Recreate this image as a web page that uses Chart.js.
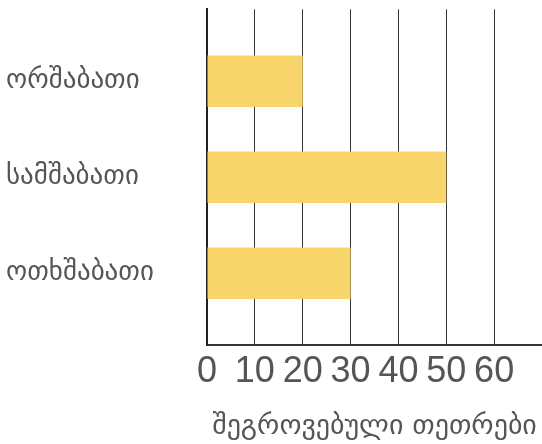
<!DOCTYPE html>
<html>
<head>
<meta charset="utf-8">
<script src="https://cdn.jsdelivr.net/npm/chart.js@4"></script>
<style>
  html, body { margin: 0; padding: 0; background: #fff; }
  #wrap { width: 542px; height: 444px; }
</style>
</head>
<body>
<div id="wrap"><canvas id="grafik"></canvas></div>
<script>
// დღეები და შეგროვებული თეთრები
const dghe = ["ორშაბათი", "სამშაბათი", "ოთხშაბათი"];
const tetri = [20, 50, 30];
const xTicks = [0, 10, 20, 30, 40, 50, 60];
const xTitle = "შეგროვებული თეთრები";

const ctx = document.getElementById("grafik").getContext("2d");

new Chart(ctx, {
    type: "bar",
    data: {
        datasets: [{
            data: tetri.map((v, i) => ({ x: v, y: i })),
            backgroundColor: "#f8d56b",
            borderWidth: 0,
            barPercentage: 0.67,
            categoryPercentage: 0.8
        }]
    },
    options: {
        indexAxis: "y",
        responsive: true,
        maintainAspectRatio: false,
        animation: false,
        layout: { padding: { top: 0, right: 0, left: 6, bottom: 0 } },
        plugins: {
            legend: { display: false },
            tooltip: { enabled: false }
        },
        scales: {
            x: {
                type: "linear",
                min: 0,
                max: 70,
                afterBuildTicks: s => { s.ticks = xTicks.map(v => ({ value: v })); },
                grid: { color: "#333", lineWidth: 1, drawTicks: false },
                border: { color: "#333", width: 2 },
                ticks: {
                    color: "#555",
                    padding: 5,
                    autoSkip: false,
                    maxRotation: 0,
                    font: { family: "'Liberation Sans', Arial, sans-serif", size: 36 }
                },
                title: {
                    display: true,
                    text: xTitle,
                    color: "#555",
                    padding: { top: 12, bottom: 0 },
                    font: { family: "'DejaVu Sans', sans-serif", size: 28 }
                }
            },
            y: {
                type: "linear",
                reverse: true,
                offset: false,
                min: -0.75,
                max: 2.75,
                afterBuildTicks: s => { s.ticks = dghe.map((d, i) => ({ value: i })); },
                afterFit: s => { s.width = 201; },
                grid: { display: false, drawTicks: false },
                border: { color: "#222", width: 2 },
                ticks: {
                    color: "#555",
                    crossAlign: "far",
                    padding: 8,
                    callback: v => dghe[v] ?? "",
                    font: { family: "'DejaVu Sans', sans-serif", size: 27, lineHeight: 0.1 }
                }
            }
        }
    }
});
</script>
</body>
</html>
